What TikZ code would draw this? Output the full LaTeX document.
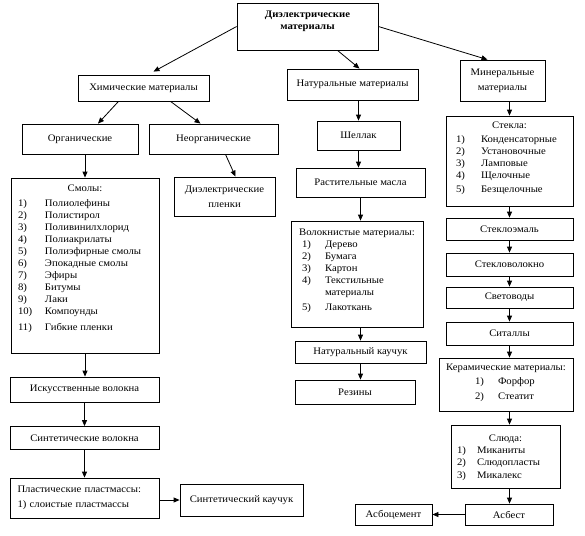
\documentclass[tikz,border=0pt]{standalone}
\usepackage{fontspec}
\setmainfont[FakeStretch=1.07]{Liberation Serif}
\usetikzlibrary{arrows.meta}
\newcommand{\itm}[3][25pt]{\makebox[#1][l]{#2}#3\par}

\begin{document}
\begin{tikzpicture}[x=1pt,y=-1pt,
    box/.style={draw,line width=0.8pt,inner sep=0pt,align=center,font=\fontsize{10}{12}\selectfont},
    arr/.style={-{Triangle[length=6pt,width=5pt]},line width=0.8pt}]
\useasboundingbox (0,0) rectangle (585,535);

\node[box] (top) at (307.5,26.5) {\begin{minipage}[c][47pt][t]{141pt}\centering\vspace*{8pt}\bfseries Диэлектрические\\материалы\end{minipage}};

\node[box,minimum width=131pt,minimum height=26pt] (chem) at (143.5,88) {Химические материалы};
\node[box,minimum width=116pt,minimum height=30pt] (org) at (80,139) {Органические};
\node[box,minimum width=129pt,minimum height=30pt] (inorg) at (213.5,139) {Неорганические};
\node[box] (resins) at (85,265.5) {\begin{minipage}[c][175pt][t]{148pt}\vspace*{7pt}\centering Смолы:\par
  \raggedright\leftskip=7pt\vspace{2.5pt}
  \itm[27pt]{1)}{Полиолефины}
  \itm[27pt]{2)}{Полистирол}
  \itm[27pt]{3)}{Поливинилхлорид}
  \itm[27pt]{4)}{Полиакрилаты}
  \itm[27pt]{5)}{Полиэфирные смолы}
  \itm[27pt]{6)}{Эпокадные смолы}
  \itm[27pt]{7)}{Эфиры}
  \itm[27pt]{8)}{Битумы}
  \itm[27pt]{9)}{Лаки}
  \itm[27pt]{10)}{Компоунды}
  \vspace{4pt}\itm[27pt]{11)}{Гибкие пленки}\end{minipage}};
\node[box,minimum width=101pt,minimum height=39pt] (films) at (224.5,196.5) {Диэлектрические\\[3pt]пленки};
\node[box,minimum width=149pt,minimum height=25pt] (artfib) at (84.5,389.5) {Искусственные волокна};
\node[box,minimum width=149pt,minimum height=23pt] (synfib) at (84.5,438) {Синтетические волокна};
\node[box,minimum width=149pt,minimum height=40pt,text width=134pt,align=left] (plast) at (84.5,498) {Пластические пластмассы:\\[3pt]1) слоистые пластмассы};
\node[box,minimum width=123pt,minimum height=32pt] (synrub) at (241.5,500) {Синтетический каучук};

\node[box,minimum width=131pt,minimum height=31pt] (nat) at (352.5,84.5) {Натуральные материалы};
\node[box,minimum width=83pt,minimum height=29pt] (shellac) at (358.5,135.5) {Шеллак};
\node[box,minimum width=129pt,minimum height=29pt] (oils) at (360.5,182.5) {Растительные масла};
\node[box] (fibrous) at (357,274) {\begin{minipage}[c][106pt][t]{132pt}\vspace*{8pt}\centering Волокнистые материалы:\par
  \raggedright\leftskip=11pt
  \itm[23pt]{1)}{Дерево}
  \itm[23pt]{2)}{Бумага}
  \itm[23pt]{3)}{Картон}
  \itm[23pt]{4)}{Текстильные}
  \hspace*{23pt}материалы\par
  \vspace{3pt}\itm[23pt]{5)}{Лакоткань}\end{minipage}};
\node[box,minimum width=131pt,minimum height=22pt] (natrub) at (360.5,352) {Натуральный каучук};
\node[box,minimum width=120pt,minimum height=24pt] (rubber) at (355,392) {Резины};

\node[box,minimum width=85pt,minimum height=41pt] (mineral) at (502.5,80.5) {Минеральные\\[3pt]материалы};
\node[box] (glass) at (509.5,161) {\begin{minipage}[c][90pt][t]{127pt}\vspace*{6pt}\centering Стекла:\par
  \raggedright\leftskip=10pt\vspace{2pt}
  \itm{1)}{Конденсаторные}
  \itm{2)}{Установочные}
  \itm{3)}{Ламповые}
  \itm{4)}{Щелочные}
  \vspace{1.5pt}\itm{5)}{Безщелочные}\end{minipage}};
\node[box,minimum width=127pt,minimum height=22pt] (enamel) at (509.5,229) {Стеклоэмаль};
\node[box,minimum width=127pt,minimum height=23pt] (glassfib) at (509.5,264.5) {Стекловолокно};
\node[box,minimum width=127pt,minimum height=21pt] (guide) at (509.5,297.5) {Световоды};
\node[box,minimum width=127pt,minimum height=23pt] (sital) at (509.5,333.5) {Ситаллы};
\node[box] (ceramic) at (506,384.5) {\begin{minipage}[c][53pt][t]{134pt}\vspace*{6pt}\centering Керамические материалы:\par
  \raggedright\leftskip=36pt\vspace{2pt}
  \itm[23pt]{1)}{Форфор}
  \vspace{3pt}\itm[23pt]{2)}{Стеатит}\end{minipage}};
\node[box] (mica) at (505.5,456.5) {\begin{minipage}[c][63pt][t]{109pt}\vspace*{9.5pt}\centering Слюда:\par
  \raggedright\leftskip=6pt
  \itm[20pt]{1)}{Миканиты}
  \itm[20pt]{2)}{Слюдопласты}
  \vspace{1.5pt}\itm[20pt]{3)}{Микалекс}\end{minipage}};
\node[box,minimum width=88pt,minimum height=21pt] (asbest) at (509,514.5) {Асбест};
\node[box,minimum width=77pt,minimum height=21pt] (asbcem) at (393.5,514.5) {Асбоцемент};

\draw[arr] (top.west) -- ([xshift=10pt,yshift=3pt]chem.north);
\draw[arr] ([xshift=30pt]top.south) -- ([xshift=7pt]nat.north);
\draw[arr] (top.east) -- ([xshift=-15pt]mineral.north);
\draw[arr] ([xshift=-25pt]chem.south) -- ([xshift=18pt]org.north);
\draw[arr] ([xshift=27pt]chem.south) -- ([xshift=-13pt]inorg.north);
\draw[arr] (resins.north |- org.south) -- (resins.north);
\draw[arr] ([xshift=12pt]inorg.south) -- ([xshift=11pt]films.north);
\draw[arr] (resins.south) -- (resins.south |- artfib.north);
\draw[arr] (artfib.south) -- (artfib.south |- synfib.north);
\draw[arr] (synfib.south) -- (synfib.south |- plast.north);
\draw[arr] (plast.east |- synrub.west) -- (synrub.west);

\draw[arr] (shellac.north |- nat.south) -- (shellac.north);
\draw[arr] (shellac.south) -- (shellac.south |- oils.north);
\draw[arr] (oils.south) -- (oils.south |- fibrous.north);
\draw[arr] (oils.south |- fibrous.south) -- (oils.south |- natrub.north);
\draw[arr] (oils.south |- natrub.south) -- (oils.south |- rubber.north);

\draw[arr] (glass.north |- mineral.south) -- (glass.north);
\draw[arr] (glass.south) -- (enamel.north);
\draw[arr] (enamel.south) -- (glassfib.north);
\draw[arr] (glassfib.south) -- (guide.north);
\draw[arr] (guide.south) -- (sital.north);
\draw[arr] (sital.south) -- (sital.south |- ceramic.north);
\draw[arr] (sital.south |- ceramic.south) -- (sital.south |- mica.north);
\draw[arr] (sital.south |- mica.south) -- (sital.south |- asbest.north);
\draw[arr] (asbest.west) -- (asbcem.east);
\end{tikzpicture}
\end{document}
